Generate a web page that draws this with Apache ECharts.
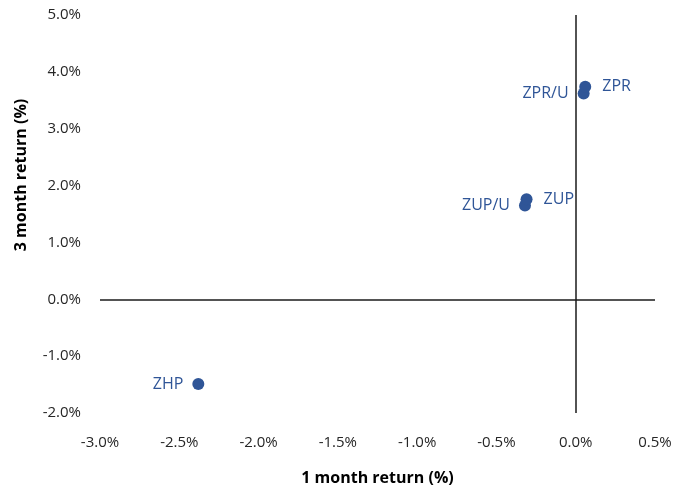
<!DOCTYPE html>
<html><head><meta charset="utf-8">
<script src="https://cdn.jsdelivr.net/npm/echarts@6/dist/echarts.min.js"></script>
<style>html,body{margin:0;padding:0;background:#fff}#c{width:693px;height:495px}</style>
</head><body><div id="c"></div>
<script>
const names = ['ZHP', 'ZUP/U', 'ZUP', 'ZPR/U', 'ZPR'];
const oneMonth = [-2.38, -0.32, -0.31, 0.05, 0.06];
const threeMonth = [-1.49, 1.65, 1.76, 3.62, 3.74];
const labelSide = ['left', 'left', 'right', 'left', 'right'];
const xTicks = [-3.0, -2.5, -2.0, -1.5, -1.0, -0.5, 0.0, 0.5];
const yTicks = [-2.0, -1.0, 0.0, 1.0, 2.0, 3.0, 4.0, 5.0];

const blue = '#2F5597';
const font = 'Open Sans';
const chart = echarts.init(document.getElementById('c'));
chart.setOption({
  animation: false,
  grid: { left: 100, right: 38, top: 15, bottom: 82 },
  xAxis: {
    type: 'value', min: xTicks[0], max: xTicks[xTicks.length - 1], interval: 0.5,
    axisLine: { show: false, onZero: false }, axisTick: { show: false }, splitLine: { show: false },
    axisLabel: { margin: 22, color: '#262626', fontFamily: font, fontSize: 15, formatter: v => v.toFixed(1) + '%' },
    name: '1 month return (%)', nameLocation: 'middle', nameGap: 57,
    nameTextStyle: { color: '#000', fontFamily: font, fontSize: 16, fontWeight: 'bold' }
  },
  yAxis: {
    type: 'value', min: yTicks[0], max: yTicks[yTicks.length - 1], interval: 1,
    axisLine: { show: false, onZero: false }, axisTick: { show: false }, splitLine: { show: false },
    axisLabel: { margin: 19, color: '#262626', fontFamily: font, fontSize: 15, formatter: v => v.toFixed(1) + '%' }
  },
  graphic: [{
    type: 'text', rotation: Math.PI / 2, x: 21, y: 175,
    style: { text: '3 month return (%)', fill: '#000', font: 'bold 16px "Open Sans"', align: 'center', verticalAlign: 'middle' }
  }],
  series: [{
    type: 'scatter', symbolSize: 12,
    itemStyle: { color: blue, opacity: 1 },
    data: names.map((n, i) => ({
      name: n, value: [oneMonth[i], threeMonth[i]],
      label: { show: true, position: labelSide[i], formatter: n, distance: labelSide[i] === 'left' ? 9 : 11,
        color: blue, fontFamily: font, fontSize: 16 }
    })),
    markLine: {
      silent: true, symbol: 'none', label: { show: false },
      lineStyle: { color: '#1a1a1a', width: 1.5, type: 'solid' },
      data: [{ xAxis: 0 }, { yAxis: 0 }]
    }
  }]
});
</script></body></html>
